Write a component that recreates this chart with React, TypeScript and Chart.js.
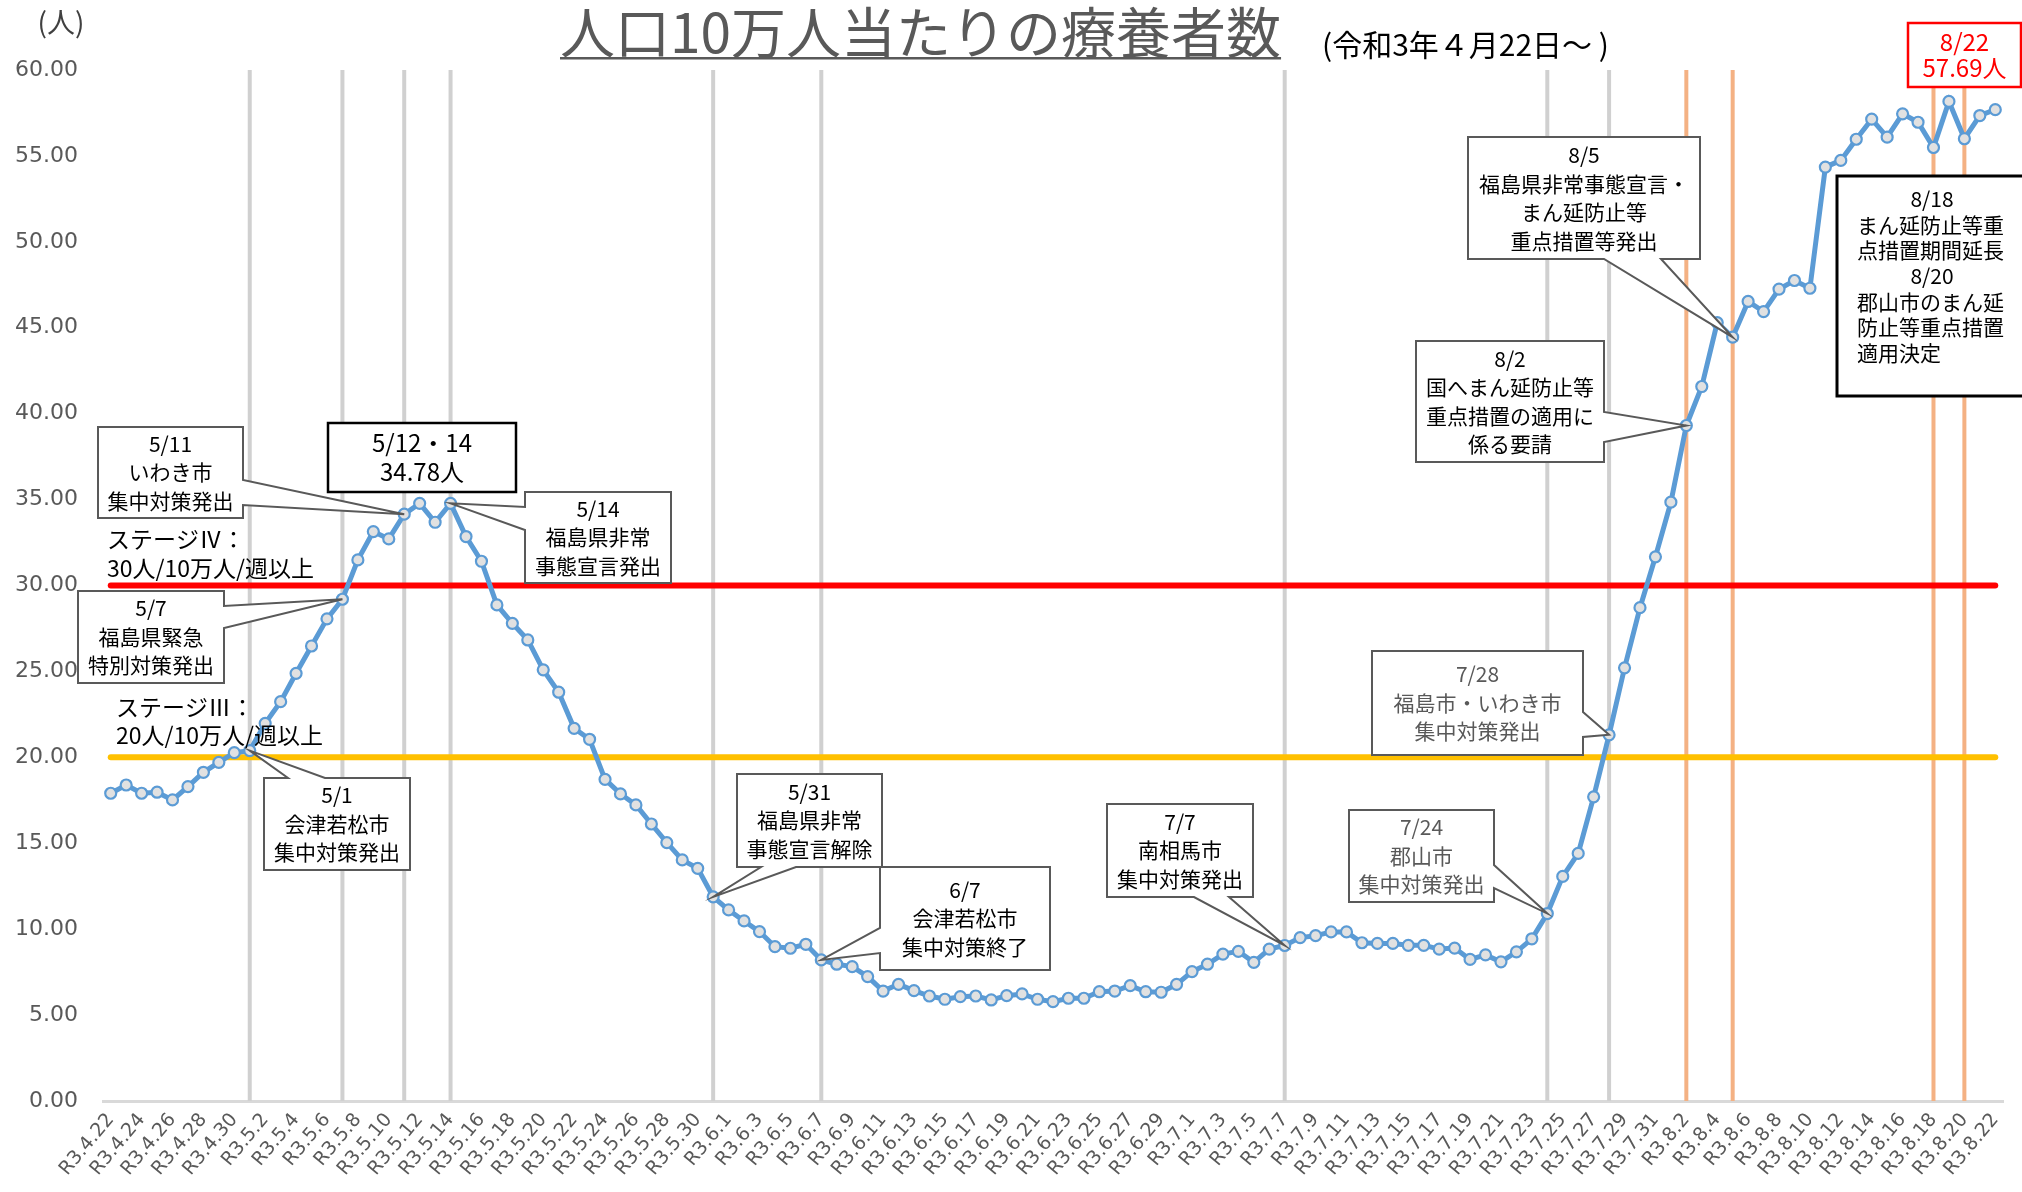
import React, { useEffect, useRef } from "react";
import { Chart, registerables } from "chart.js";

Chart.register(...registerables);

// ---- categories (R3 = Reiwa 3) ----
const MONTH_SPANS: number[][] = [
  [4, 22, 30],
  [5, 1, 31],
  [6, 1, 30],
  [7, 1, 31],
  [8, 1, 22],
];
const dateLabels: string[] = [];
for (const [m, s, e] of MONTH_SPANS) for (let d = s; d <= e; d++) dateLabels.push(`R3.${m}.${d}`);

// ---- series: patients under treatment per 100k population ----
const patientsPer100k: number[] = [
  17.91, 18.39, 17.91, 17.97, 17.52, 18.3, 19.13, 19.71, 20.27, 20.39,
  21.98, 23.24, 24.89, 26.48, 28.06, 29.2, 31.49, 33.14, 32.71, 34.15,
  34.78, 33.68, 34.78, 32.85, 31.41, 28.87, 27.8, 26.83, 25.09, 23.79,
  21.69, 21.05, 18.72, 17.87, 17.23, 16.12, 15.04, 14.03, 13.54, 11.88,
  11.12, 10.48, 9.86, 8.98, 8.89, 9.12, 8.21, 7.96, 7.82, 7.24,
  6.4, 6.79, 6.42, 6.11, 5.92, 6.07, 6.11, 5.88, 6.13, 6.23,
  5.92, 5.78, 5.98, 5.98, 6.36, 6.4, 6.71, 6.36, 6.33, 6.79,
  7.53, 7.96, 8.55, 8.71, 8.07, 8.84, 9.05, 9.51, 9.62, 9.84,
  9.84, 9.21, 9.17, 9.17, 9.06, 9.06, 8.84, 8.9, 8.24, 8.5,
  8.1, 8.68, 9.44, 10.91, 13.07, 14.41, 17.7, 21.31, 25.21, 28.71,
  31.67, 34.85, 39.31, 41.58, 45.3, 44.45, 46.53, 45.94, 47.25, 47.75,
  47.3, 54.35, 54.74, 55.97, 57.14, 56.09, 57.45, 56.96, 55.49, 58.17,
  56.0, 57.35, 57.69,
];

// ---- reference lines ----
const STAGE4_LEVEL = 30;
const STAGE3_LEVEL = 20;
const grayEventDates = ["R3.5.1", "R3.5.7", "R3.5.11", "R3.5.14", "R3.5.31", "R3.6.7", "R3.7.7", "R3.7.24", "R3.7.28"];
const orangeEventDates = ["R3.8.2", "R3.8.5", "R3.8.18", "R3.8.20"];

// ---- y axis ----
const Y_MIN = 0;
const Y_MAX = 60;
const Y_STEP = 5;

// ---- texts ----
const TITLE = "人口10万人当たりの療養者数";
const SUBTITLE = "(令和3年４月22日～ )";
const UNIT = "(人)";
const stage4Lines = ["ステージⅣ：", "30人/10万人/週以上"];
const stage3Lines = ["ステージⅢ：", "20人/10万人/週以上"];

type Callout = {
  lines: string[];
  box: [number, number, number, number];
  date?: string;
  side?: "left" | "right" | "top" | "bottom";
  wedge?: [number, number];
  color?: string;
  border?: string;
  bw?: number;
  size?: number;
  lineH?: number;
  firstY?: number;
  leftX?: number;
  centerIdx?: number[];
};

const callouts: Callout[] = [
  { lines: ["5/11", "いわき市", "集中対策発出"], box: [98, 427, 243, 518], date: "R3.5.11", side: "right", wedge: [480, 505] },
  { lines: ["5/12・14", "34.78人"], box: [328, 423, 516, 492], border: "#000", bw: 2.5, size: 24, lineH: 29 },
  { lines: ["5/14", "福島県非常", "事態宣言発出"], box: [525, 492, 671, 583], date: "R3.5.14", side: "left", wedge: [507, 530] },
  { lines: ["5/7", "福島県緊急", "特別対策発出"], box: [78, 591, 224, 683], date: "R3.5.7", side: "right", wedge: [606, 628] },
  { lines: ["5/1", "会津若松市", "集中対策発出"], box: [264, 778, 410, 870], date: "R3.5.1", side: "top", wedge: [288, 325] },
  { lines: ["5/31", "福島県非常", "事態宣言解除"], box: [737, 774, 882, 867], date: "R3.5.31", side: "bottom", wedge: [761, 796] },
  { lines: ["6/7", "会津若松市", "集中対策終了"], box: [880, 867, 1050, 970], date: "R3.6.7", side: "left", wedge: [928, 953] },
  { lines: ["7/7", "南相馬市", "集中対策発出"], box: [1107, 804, 1253, 897], date: "R3.7.7", side: "bottom", wedge: [1194, 1229] },
  { lines: ["7/24", "郡山市", "集中対策発出"], box: [1349, 810, 1494, 902], date: "R3.7.24", side: "right", wedge: [865, 888], color: "#595959" },
  { lines: ["7/28", "福島市・いわき市", "集中対策発出"], box: [1372, 651, 1583, 755], date: "R3.7.28", side: "right", wedge: [712, 737], color: "#595959" },
  { lines: ["8/2", "国へまん延防止等", "重点措置の適用に", "係る要請"], box: [1416, 341, 1604, 462], date: "R3.8.2", side: "right", wedge: [412, 442] },
  { lines: ["8/5", "福島県非常事態宣言・", "まん延防止等", "重点措置等発出"], box: [1468, 137, 1700, 259], date: "R3.8.5", side: "bottom", wedge: [1604, 1661] },
  {
    lines: ["8/18", "まん延防止等重", "点措置期間延長", "8/20", "郡山市のまん延", "防止等重点措置", "適用決定"],
    box: [1837, 176, 2030, 396], border: "#000", bw: 3, lineH: 25.7, firstY: 199, leftX: 1857, centerIdx: [0, 3],
  },
  { lines: ["8/22", "57.69人"], box: [1908, 23, 2021, 87], border: "#ff0000", color: "#ff0000", bw: 2.5, size: 24, lineH: 26 },
];

const JP = '"Noto Sans CJK JP", "Noto Sans", sans-serif';

function drawCallout(chart: any, c: Callout) {
  const ctx = chart.ctx as CanvasRenderingContext2D;
  const xs = chart.scales.x;
  const ys = chart.scales.y;
  const [x1, y1, x2, y2] = c.box;
  const pts: [number, number][] = [];
  let tip: [number, number] | null = null;
  if (c.date && c.side && c.wedge) {
    const idx = dateLabels.indexOf(c.date);
    tip = [xs.getPixelForValue(idx), ys.getPixelForValue(patientsPer100k[idx])];
  }
  const [a, b] = c.wedge || [0, 0];
  pts.push([x1, y1]);
  if (tip && c.side === "top") pts.push([a, y1], tip, [b, y1]);
  pts.push([x2, y1]);
  if (tip && c.side === "right") pts.push([x2, a], tip, [x2, b]);
  pts.push([x2, y2]);
  if (tip && c.side === "bottom") pts.push([b, y2], tip, [a, y2]);
  pts.push([x1, y2]);
  if (tip && c.side === "left") pts.push([x1, b], tip, [x1, a]);

  ctx.save();
  ctx.beginPath();
  ctx.moveTo(pts[0][0], pts[0][1]);
  for (let i = 1; i < pts.length; i++) ctx.lineTo(pts[i][0], pts[i][1]);
  ctx.closePath();
  ctx.fillStyle = "#ffffff";
  ctx.fill();
  ctx.lineWidth = c.bw ?? 2;
  ctx.strokeStyle = c.border ?? "#595959";
  ctx.lineJoin = "miter";
  ctx.stroke();

  const size = c.size ?? 21;
  const lh = c.lineH ?? 28.5;
  ctx.font = `${size}px ${JP}`;
  ctx.fillStyle = c.color ?? "#000000";
  ctx.textBaseline = "middle";
  const cx = (x1 + x2) / 2;
  const n = c.lines.length;
  const startY = c.firstY ?? (y1 + y2) / 2 - ((n - 1) * lh) / 2;
  c.lines.forEach((line, i) => {
    const y = startY + i * lh;
    if (c.leftX !== undefined && !(c.centerIdx || []).includes(i)) {
      ctx.textAlign = "left";
      ctx.fillText(line, c.leftX, y);
    } else {
      ctx.textAlign = "center";
      ctx.fillText(line, c.leftX !== undefined ? c.leftX + 75 : cx, y);
    }
  });
  ctx.restore();
}

const overlayPlugin = {
  id: "overlay",
  beforeDatasetsDraw(chart: any) {
    const ctx = chart.ctx as CanvasRenderingContext2D;
    const { top, bottom } = chart.chartArea;
    const xs = chart.scales.x;
    const ys = chart.scales.y;
    ctx.save();
    ctx.lineWidth = 4;
    ctx.strokeStyle = "#d0d0d0";
    for (const d of grayEventDates) {
      const x = xs.getPixelForValue(dateLabels.indexOf(d));
      ctx.beginPath();
      ctx.moveTo(x, top);
      ctx.lineTo(x, bottom);
      ctx.stroke();
    }
    ctx.strokeStyle = "#f4b183";
    for (const d of orangeEventDates) {
      const x = xs.getPixelForValue(dateLabels.indexOf(d));
      ctx.beginPath();
      ctx.moveTo(x, top);
      ctx.lineTo(x, bottom);
      ctx.stroke();
    }
    const xa = xs.getPixelForValue(0);
    const xb = xs.getPixelForValue(dateLabels.length - 1);
    ctx.lineCap = "round";
    ctx.lineWidth = 6;
    ctx.strokeStyle = "#ff0000";
    let y = ys.getPixelForValue(STAGE4_LEVEL);
    ctx.beginPath();
    ctx.moveTo(xa, y);
    ctx.lineTo(xb, y);
    ctx.stroke();
    ctx.strokeStyle = "#ffc000";
    y = ys.getPixelForValue(STAGE3_LEVEL);
    ctx.beginPath();
    ctx.moveTo(xa, y);
    ctx.lineTo(xb, y);
    ctx.stroke();
    ctx.restore();
  },
  afterDatasetsDraw(chart: any) {
    const ctx = chart.ctx as CanvasRenderingContext2D;
    ctx.save();
    ctx.font = `23px ${JP}`;
    ctx.fillStyle = "#000000";
    ctx.textAlign = "left";
    ctx.textBaseline = "middle";
    ctx.fillText(stage4Lines[0], 107, 539);
    ctx.fillText(stage4Lines[1], 107, 568);
    ctx.fillText(stage3Lines[0], 116, 707);
    ctx.fillText(stage3Lines[1], 116, 735);
    ctx.restore();
    for (const c of callouts) drawCallout(chart, c);

    // title & subtitle & unit
    ctx.save();
    ctx.textBaseline = "middle";
    ctx.textAlign = "left";
    ctx.font = `55px ${JP}`;
    ctx.fillStyle = "#595959";
    const tx = 560;
    ctx.fillText(TITLE, tx, 32);
    const w = ctx.measureText(TITLE).width;
    ctx.fillRect(tx, 57, w, 2.5);
    ctx.font = `30px ${JP}`;
    ctx.fillStyle = "#000000";
    ctx.fillText(SUBTITLE, 1322, 45);
    ctx.font = `28px ${JP}`;
    ctx.fillStyle = "#404040";
    ctx.textAlign = "center";
    ctx.fillText(UNIT, 61, 22);
    ctx.restore();
  },
};

export default function App() {
  const ref = useRef<HTMLCanvasElement | null>(null);
  useEffect(() => {
    if (!ref.current) return;
    const chart = new Chart(ref.current, {
      type: "line",
      data: {
        labels: dateLabels,
        datasets: [
          {
            data: patientsPer100k,
            borderColor: "#5b9bd5",
            borderWidth: 5,
            pointRadius: 5.5,
            pointBackgroundColor: "#e1e1e1",
            pointBorderColor: "#5b9bd5",
            pointBorderWidth: 2.2,
            tension: 0,
          },
        ],
      },
      options: {
        animation: false,
        responsive: false,
        devicePixelRatio: 1,
        layout: { padding: { top: 70, right: 19, left: 0, bottom: 0 } },
        plugins: { legend: { display: false }, tooltip: { enabled: false }, title: { display: false } },
        scales: {
          x: {
            offset: true,
            grid: { display: false, drawTicks: false },
            border: { display: true, color: "#d9d9d9", width: 3 },
            ticks: {
              autoSkip: false,
              maxRotation: 50,
              minRotation: 50,
              padding: 8,
              color: "#595959",
              font: { family: "DejaVu Sans", size: 19 },
              callback: (_v: any, i: number) => (i % 2 === 0 ? dateLabels[i] : ""),
            },
            afterFit: (s: any) => {
              s.height = 91;
            },
          },
          y: {
            min: Y_MIN,
            max: Y_MAX,
            ticks: {
              stepSize: Y_STEP,
              padding: 25,
              color: "#595959",
              font: { family: "DejaVu Sans", size: 22 },
              callback: (v: any) => Number(v).toFixed(2),
            },
            grid: { display: false, drawTicks: false },
            border: { display: false },
            afterFit: (s: any) => {
              s.width = 103;
            },
          },
        },
      },
      plugins: [overlayPlugin],
    });
    return () => chart.destroy();
  }, []);
  return (
    <div style={{ position: "fixed", left: 0, top: 0, width: 2022, height: 1192, background: "#fff" }}>
      <canvas ref={ref} width={2022} height={1192} style={{ display: "block", width: 2022, height: 1192 }} />
    </div>
  );
}
